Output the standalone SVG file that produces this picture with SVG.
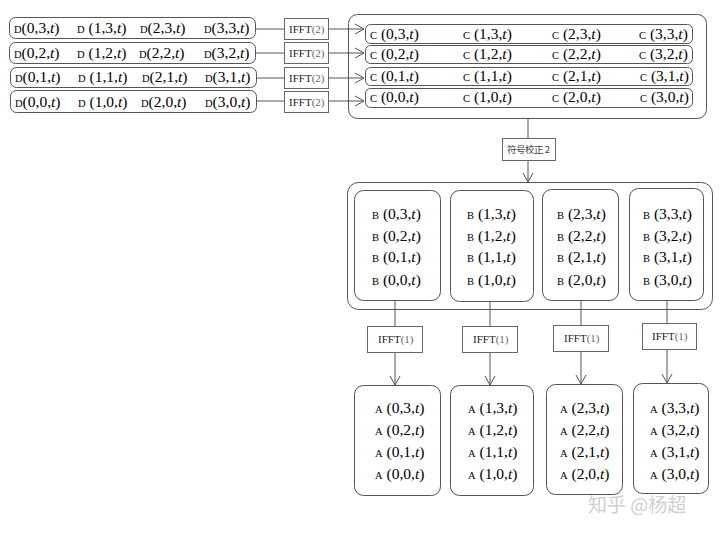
<svg xmlns="http://www.w3.org/2000/svg" width="720" height="534" viewBox="0 0 720 534">
<style>
.box{fill:none;stroke:#555;stroke-width:1}
.lbl{fill:#fff;stroke:#666;stroke-width:1}
.ln{fill:none;stroke:#555;stroke-width:1}
text{font-family:"Liberation Serif","Times New Roman",serif;fill:#000;font-size:15.5px}
.p{font-size:10.5px}
.i{font-style:italic}
.f{font-size:11px;fill:#222}
.f tspan{fill:#666}
.cn{font-family:"Noto Sans CJK SC","Noto Sans",sans-serif;font-size:9.5px;fill:#444}
.wm{font-family:"Noto Sans CJK SC","Noto Sans",sans-serif;font-size:19px;fill:#cfcfcf}
</style>
<defs>
<marker id="ah" markerWidth="12" markerHeight="12" refX="10" refY="6" orient="auto" markerUnits="userSpaceOnUse">
<path d="M1,1 L10,6 L1,11" fill="none" stroke="#555" stroke-width="1"/>
</marker>
</defs>
<rect width="720" height="534" fill="#fff"/>

<g id="connectors">
<line class="ln" x1="256" y1="29" x2="284" y2="29"/>
<line class="ln" x1="328" y1="29" x2="364" y2="29" marker-end="url(#ah)"/>
<line class="ln" x1="256" y1="53" x2="284" y2="53"/>
<line class="ln" x1="328" y1="53" x2="364" y2="53" marker-end="url(#ah)"/>
<line class="ln" x1="257" y1="78" x2="284" y2="78"/>
<line class="ln" x1="328" y1="78" x2="364" y2="78" marker-end="url(#ah)"/>
<line class="ln" x1="257" y1="101" x2="284" y2="101"/>
<line class="ln" x1="328" y1="101" x2="364" y2="101" marker-end="url(#ah)"/>
<line class="ln" x1="528" y1="118" x2="528" y2="138"/>
<line class="ln" x1="528" y1="160" x2="528" y2="182" marker-end="url(#ah)"/>
<line class="ln" x1="395" y1="300" x2="395" y2="326"/>
<line class="ln" x1="395" y1="352" x2="395" y2="385" marker-end="url(#ah)"/>
<line class="ln" x1="490" y1="302" x2="490" y2="326"/>
<line class="ln" x1="490" y1="352" x2="490" y2="385" marker-end="url(#ah)"/>
<line class="ln" x1="581" y1="300" x2="581" y2="325"/>
<line class="ln" x1="581" y1="351" x2="581" y2="384" marker-end="url(#ah)"/>
<line class="ln" x1="667" y1="300" x2="667" y2="323"/>
<line class="ln" x1="667" y1="349" x2="667" y2="383" marker-end="url(#ah)"/>
</g>

<g id="d-row3">
<rect class="box" x="9.5" y="17.5" width="246" height="21" rx="6"/>
<text x="14" y="33"><tspan class="p">D</tspan>(0,3,<tspan class="i">t</tspan>)</text>
<text x="77" y="33"><tspan class="p">D</tspan> (1,3,<tspan class="i">t</tspan>)</text>
<text x="140" y="33"><tspan class="p">D</tspan>(2,3,<tspan class="i">t</tspan>)</text>
<text x="204" y="33"><tspan class="p">D</tspan>(3,3,<tspan class="i">t</tspan>)</text>
</g>
<g id="d-row2">
<rect class="box" x="9.5" y="42.5" width="246" height="21" rx="6"/>
<text x="14" y="58"><tspan class="p">D</tspan>(0,2,<tspan class="i">t</tspan>)</text>
<text x="77" y="58"><tspan class="p">D</tspan> (1,2,<tspan class="i">t</tspan>)</text>
<text x="139" y="58"><tspan class="p">D</tspan>(2,2,<tspan class="i">t</tspan>)</text>
<text x="204" y="58"><tspan class="p">D</tspan>(3,2,<tspan class="i">t</tspan>)</text>
</g>
<g id="d-row1">
<rect class="box" x="10.5" y="67.5" width="246" height="20" rx="6"/>
<text x="15" y="82"><tspan class="p">D</tspan>(0,1,<tspan class="i">t</tspan>)</text>
<text x="78" y="82"><tspan class="p">D</tspan> (1,1,<tspan class="i">t</tspan>)</text>
<text x="142" y="82"><tspan class="p">D</tspan>(2,1,<tspan class="i">t</tspan>)</text>
<text x="205" y="82"><tspan class="p">D</tspan>(3,1,<tspan class="i">t</tspan>)</text>
</g>
<g id="d-row0">
<rect class="box" x="10.5" y="90.5" width="246" height="22" rx="6"/>
<text x="15" y="107"><tspan class="p">D</tspan>(0,0,<tspan class="i">t</tspan>)</text>
<text x="78" y="107"><tspan class="p">D</tspan> (1,0,<tspan class="i">t</tspan>)</text>
<text x="141" y="107"><tspan class="p">D</tspan>(2,0,<tspan class="i">t</tspan>)</text>
<text x="205" y="107"><tspan class="p">D</tspan>(3,0,<tspan class="i">t</tspan>)</text>
</g>

<g id="ifft2-3"><rect class="lbl" x="284.5" y="18.5" width="44" height="21"/><text class="f" x="289" y="33">IFFT<tspan>(2)</tspan></text></g>
<g id="ifft2-2"><rect class="lbl" x="284.5" y="42.5" width="44" height="21"/><text class="f" x="289" y="57">IFFT<tspan>(2)</tspan></text></g>
<g id="ifft2-1"><rect class="lbl" x="284.5" y="67.5" width="44" height="21"/><text class="f" x="289" y="82">IFFT<tspan>(2)</tspan></text></g>
<g id="ifft2-0"><rect class="lbl" x="284.5" y="91.5" width="44" height="21"/><text class="f" x="289" y="106">IFFT<tspan>(2)</tspan></text></g>

<g id="c-block">
<rect class="box" x="348.5" y="14.5" width="358" height="104" rx="9"/>
<g id="c-row3">
<rect class="box" x="365.5" y="24.5" width="327" height="19" rx="5"/>
<text x="370" y="39"><tspan class="p">C</tspan> (0,3,<tspan class="i">t</tspan>)</text>
<text x="463" y="39"><tspan class="p">C</tspan> (1,3,<tspan class="i">t</tspan>)</text>
<text x="552" y="39"><tspan class="p">C</tspan> (2,3,<tspan class="i">t</tspan>)</text>
<text x="639" y="39"><tspan class="p">C</tspan> (3,3,<tspan class="i">t</tspan>)</text>
</g>
<g id="c-row2">
<rect class="box" x="365.5" y="45.5" width="327" height="18" rx="5"/>
<text x="370" y="59"><tspan class="p">C</tspan> (0,2,<tspan class="i">t</tspan>)</text>
<text x="463" y="59"><tspan class="p">C</tspan> (1,2,<tspan class="i">t</tspan>)</text>
<text x="552" y="59"><tspan class="p">C</tspan> (2,2,<tspan class="i">t</tspan>)</text>
<text x="639" y="59"><tspan class="p">C</tspan> (3,2,<tspan class="i">t</tspan>)</text>
</g>
<g id="c-row1">
<rect class="box" x="365.5" y="67.5" width="327" height="18" rx="5"/>
<text x="370" y="81"><tspan class="p">C</tspan> (0,1,<tspan class="i">t</tspan>)</text>
<text x="463" y="81"><tspan class="p">C</tspan> (1,1,<tspan class="i">t</tspan>)</text>
<text x="552" y="81"><tspan class="p">C</tspan> (2,1,<tspan class="i">t</tspan>)</text>
<text x="640" y="81"><tspan class="p">C</tspan>  (3,1,<tspan class="i">t</tspan>)</text>
</g>
<g id="c-row0">
<rect class="box" x="365.5" y="88.5" width="327" height="19" rx="5"/>
<text x="370" y="102"><tspan class="p">C</tspan> (0,0,<tspan class="i">t</tspan>)</text>
<text x="463" y="102"><tspan class="p">C</tspan> (1,0,<tspan class="i">t</tspan>)</text>
<text x="552" y="102"><tspan class="p">C</tspan> (2,0,<tspan class="i">t</tspan>)</text>
<text x="640" y="102"><tspan class="p">C</tspan>  (3,0,<tspan class="i">t</tspan>)</text>
</g>
</g>

<g id="sign-fix">
<rect class="lbl" x="502.5" y="138.5" width="53" height="22"/>
<text class="cn" x="507" y="153" textLength="43" lengthAdjust="spacing">符号校正 2</text>
</g>

<g id="b-block">
<rect class="box" x="347.5" y="182.5" width="365" height="127" rx="11"/>
<g id="b-col0">
<rect class="box" x="354.5" y="190.5" width="86" height="110" rx="9"/>
<text x="372" y="219"><tspan class="p">B</tspan>  (0,3,<tspan class="i">t</tspan>)</text>
<text x="372" y="241"><tspan class="p">B</tspan>  (0,2,<tspan class="i">t</tspan>)</text>
<text x="372" y="262"><tspan class="p">B</tspan>  (0,1,<tspan class="i">t</tspan>)</text>
<text x="372" y="285"><tspan class="p">B</tspan>  (0,0,<tspan class="i">t</tspan>)</text>
</g>
<g id="b-col1">
<rect class="box" x="450.5" y="190.5" width="83" height="111" rx="9"/>
<text x="467" y="219"><tspan class="p">B</tspan>  (1,3,<tspan class="i">t</tspan>)</text>
<text x="467" y="241"><tspan class="p">B</tspan>  (1,2,<tspan class="i">t</tspan>)</text>
<text x="467" y="262"><tspan class="p">B</tspan>  (1,1,<tspan class="i">t</tspan>)</text>
<text x="467" y="285"><tspan class="p">B</tspan>  (1,0,<tspan class="i">t</tspan>)</text>
</g>
<g id="b-col2">
<rect class="box" x="542.5" y="189.5" width="76" height="111" rx="9"/>
<text x="557" y="219"><tspan class="p">B</tspan> (2,3,<tspan class="i">t</tspan>)</text>
<text x="557" y="241"><tspan class="p">B</tspan> (2,2,<tspan class="i">t</tspan>)</text>
<text x="557" y="262"><tspan class="p">B</tspan> (2,1,<tspan class="i">t</tspan>)</text>
<text x="557" y="285"><tspan class="p">B</tspan> (2,0,<tspan class="i">t</tspan>)</text>
</g>
<g id="b-col3">
<rect class="box" x="629.5" y="188.5" width="74" height="112" rx="9"/>
<text x="643" y="219"><tspan class="p">B</tspan> (3,3,<tspan class="i">t</tspan>)</text>
<text x="643" y="241"><tspan class="p">B</tspan> (3,2,<tspan class="i">t</tspan>)</text>
<text x="643" y="262"><tspan class="p">B</tspan> (3,1,<tspan class="i">t</tspan>)</text>
<text x="643" y="285"><tspan class="p">B</tspan>  (3,0,<tspan class="i">t</tspan>)</text>
</g>
</g>

<g id="ifft1-0"><rect class="lbl" x="367.5" y="326.5" width="55" height="26"/><text class="f" x="378" y="343">IFFT<tspan>(1)</tspan></text></g>
<g id="ifft1-1"><rect class="lbl" x="462.5" y="326.5" width="55" height="26"/><text class="f" x="473" y="343">IFFT<tspan>(1)</tspan></text></g>
<g id="ifft1-2"><rect class="lbl" x="553.5" y="325.5" width="55" height="26"/><text class="f" x="564" y="342">IFFT<tspan>(1)</tspan></text></g>
<g id="ifft1-3"><rect class="lbl" x="642.5" y="323.5" width="54" height="26"/><text class="f" x="652" y="340">IFFT<tspan>(1)</tspan></text></g>

<g id="a-col0">
<rect class="box" x="354.5" y="385.5" width="86" height="110" rx="9"/>
<text x="375" y="413"><tspan class="p">A</tspan> (0,3,<tspan class="i">t</tspan>)</text>
<text x="375" y="435"><tspan class="p">A</tspan> (0,2,<tspan class="i">t</tspan>)</text>
<text x="375" y="457"><tspan class="p">A</tspan> (0,1,<tspan class="i">t</tspan>)</text>
<text x="375" y="479"><tspan class="p">A</tspan> (0,0,<tspan class="i">t</tspan>)</text>
</g>
<g id="a-col1">
<rect class="box" x="450.5" y="385.5" width="83" height="110" rx="9"/>
<text x="468" y="413"><tspan class="p">A</tspan> (1,3,<tspan class="i">t</tspan>)</text>
<text x="468" y="435"><tspan class="p">A</tspan> (1,2,<tspan class="i">t</tspan>)</text>
<text x="468" y="457"><tspan class="p">A</tspan> (1,1,<tspan class="i">t</tspan>)</text>
<text x="468" y="479"><tspan class="p">A</tspan> (1,0,<tspan class="i">t</tspan>)</text>
</g>
<g id="a-col2">
<rect class="box" x="546.5" y="384.5" width="76" height="110" rx="9"/>
<text x="560" y="413"><tspan class="p">A</tspan> (2,3,<tspan class="i">t</tspan>)</text>
<text x="560" y="435"><tspan class="p">A</tspan> (2,2,<tspan class="i">t</tspan>)</text>
<text x="560" y="457"><tspan class="p">A</tspan> (2,1,<tspan class="i">t</tspan>)</text>
<text x="560" y="479"><tspan class="p">A</tspan> (2,0,<tspan class="i">t</tspan>)</text>
</g>
<g id="a-col3">
<rect class="box" x="633.5" y="383.5" width="75" height="110" rx="9"/>
<text x="650" y="413"><tspan class="p">A</tspan> (3,3,<tspan class="i">t</tspan>)</text>
<text x="650" y="435"><tspan class="p">A</tspan> (3,2,<tspan class="i">t</tspan>)</text>
<text x="650" y="457"><tspan class="p">A</tspan> (3,1,<tspan class="i">t</tspan>)</text>
<text x="650" y="479"><tspan class="p">A</tspan>  (3,0,<tspan class="i">t</tspan>)</text>
</g>

<text class="wm" x="588" y="512">知乎 @杨超</text>
</svg>
